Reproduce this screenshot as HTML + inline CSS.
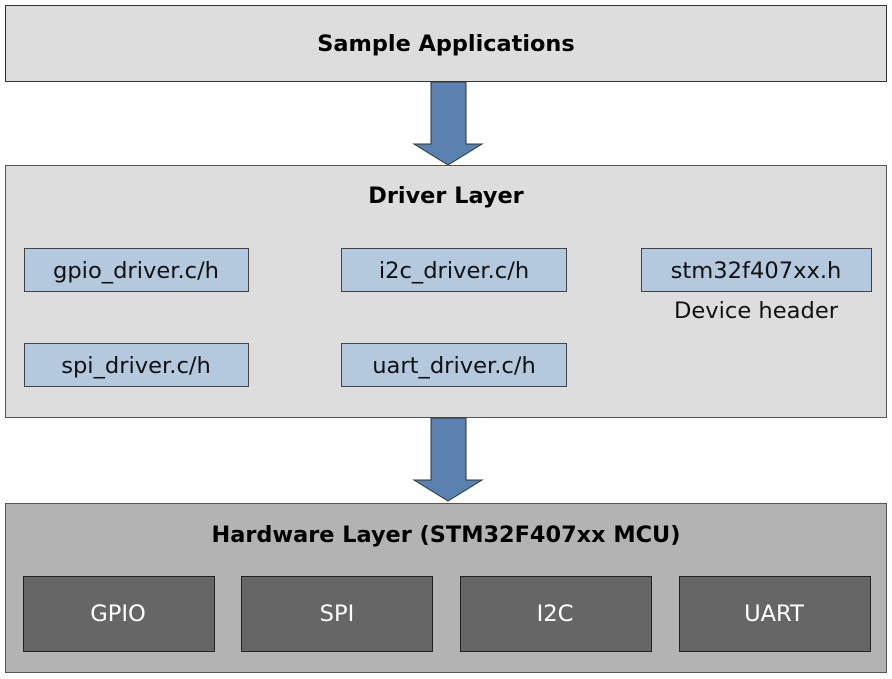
<!DOCTYPE html>
<html><head><meta charset="utf-8"><style>
html,body{margin:0;padding:0;background:#fff;}
svg{display:block;}
text{font-family:"DejaVu Sans","Liberation Sans",sans-serif;}
</style></head><body>
<svg width="892" height="679" viewBox="0 0 892 679" xmlns="http://www.w3.org/2000/svg">
<rect x="5.5" y="5.5" width="881" height="76" fill="#dddddd" stroke="#333" stroke-width="1"/>
<text x="446" y="51" text-anchor="middle" font-size="22.4" font-weight="bold" fill="#000">Sample Applications</text>
<polygon points="431,82 466,82 466,144 482,144 448,165 414,144 431,144" fill="#5a82b0" stroke="#333" stroke-width="1"/>
<rect x="5.5" y="165.5" width="881" height="252" fill="#dddddd" stroke="#555" stroke-width="1"/>
<text x="446" y="203" text-anchor="middle" font-size="22.4" font-weight="bold" fill="#000">Driver Layer</text>
<g fill="#b4c8de" stroke="#444" stroke-width="1">
<rect x="24.5" y="248.5" width="224" height="43"/>
<rect x="341.5" y="248.5" width="225" height="43"/>
<rect x="641.5" y="248.5" width="230" height="43"/>
<rect x="24.5" y="343.5" width="224" height="43"/>
<rect x="341.5" y="343.5" width="225" height="43"/>
</g>
<g font-size="22.6" fill="#111" text-anchor="middle">
<text x="136" y="278">gpio_driver.c/h</text>
<text x="454" y="278">i2c_driver.c/h</text>
<text x="756" y="278">stm32f407xx.h</text>
<text x="756" y="318">Device header</text>
<text x="136" y="373">spi_driver.c/h</text>
<text x="454" y="373">uart_driver.c/h</text>
</g>
<polygon points="431,418 466,418 466,480 482,480 448,501 414,480 431,480" fill="#5a82b0" stroke="#333" stroke-width="1"/>
<rect x="5.5" y="503.5" width="881" height="169" fill="#b3b3b3" stroke="#555" stroke-width="1"/>
<text x="446" y="542" text-anchor="middle" font-size="22.4" font-weight="bold" fill="#000">Hardware Layer (STM32F407xx MCU)</text>
<g fill="#666666" stroke="#222" stroke-width="1">
<rect x="23.5" y="576.5" width="191" height="75"/>
<rect x="241.5" y="576.5" width="191" height="75"/>
<rect x="460.5" y="576.5" width="191" height="75"/>
<rect x="679.5" y="576.5" width="191" height="75"/>
</g>
<g font-size="22.6" fill="#fff" text-anchor="middle">
<text x="118" y="621">GPIO</text>
<text x="337" y="621">SPI</text>
<text x="555" y="621">I2C</text>
<text x="774" y="621">UART</text>
</g>
</svg>
</body></html>
